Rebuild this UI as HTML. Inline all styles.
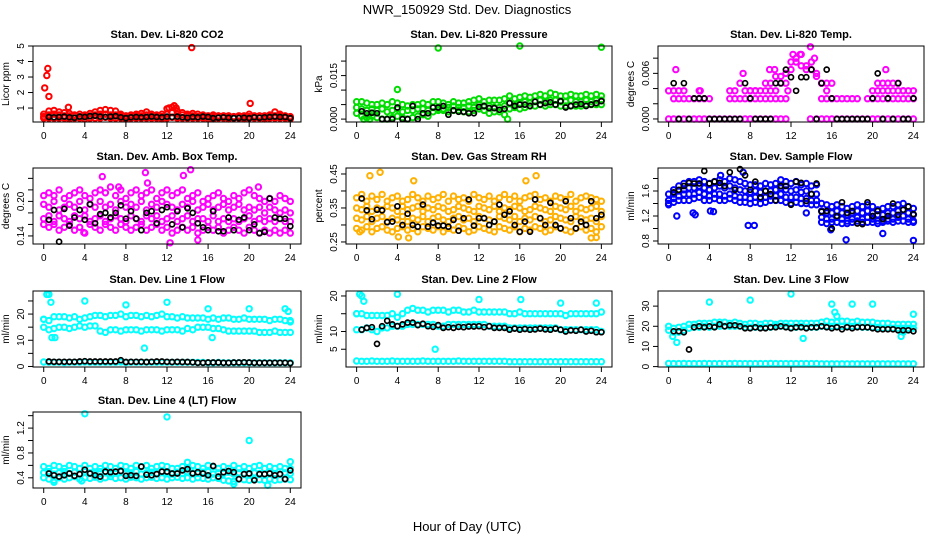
<!DOCTYPE html>
<html><head><meta charset="utf-8"><style>
html,body{margin:0;padding:0;background:#fff}
svg{display:block;font-family:"Liberation Sans",sans-serif}
</style></head><body>
<svg id="chart" width="936" height="540" viewBox="0 0 936 540" xmlns="http://www.w3.org/2000/svg">
<rect width="936" height="540" fill="#fff"/>
<text x="467" y="14" font-size="13" text-anchor="middle">NWR_150929  Std. Dev. Diagnostics</text>
<text x="467" y="531" font-size="13" text-anchor="middle">Hour of Day (UTC)</text>
</svg>
<script>
const hours=[0,0.5,1,1.5,2,2.5,3,3.5,4,4.5,5,5.5,6,6.5,7,7.5,8,8.5,9,9.5,10,10.5,11,11.5,12,12.5,13,13.5,14,14.5,15,15.5,16,16.5,17,17.5,18,18.5,19,19.5,20,20.5,21,21.5,22,22.5,23,23.5,24];
const xTicks=[0,4,8,12,16,20,24];

const co2Hi=[0.6,0.8,0.85,0.75,0.7,0.65,0.55,0.6,0.55,0.65,0.75,0.85,0.9,0.85,0.8,0.6,0.5,0.55,0.6,0.65,0.75,0.6,0.55,0.6,0.95,1.05,0.8,0.7,0.6,0.65,0.6,0.55,0.5,0.55,0.5,0.5,0.5,0.45,0.5,0.5,0.6,0.5,0.5,0.5,0.55,0.75,0.6,0.5,0.45];
const co2Mid=[0.45,0.55,0.6,0.55,0.5,0.5,0.5,0.45,0.5,0.5,0.55,0.6,0.6,0.55,0.55,0.5,0.45,0.45,0.5,0.5,0.55,0.5,0.5,0.45,0.6,0.7,0.6,0.55,0.5,0.5,0.45,0.45,0.45,0.45,0.4,0.45,0.45,0.4,0.45,0.45,0.45,0.45,0.45,0.45,0.45,0.5,0.5,0.45,0.4];
const co2Lo=[0.35,0.35,0.35,0.35,0.35,0.3,0.35,0.35,0.3,0.35,0.35,0.35,0.4,0.35,0.35,0.35,0.3,0.35,0.35,0.35,0.35,0.35,0.35,0.3,0.35,0.4,0.35,0.35,0.35,0.35,0.35,0.35,0.3,0.3,0.35,0.35,0.3,0.35,0.35,0.3,0.35,0.35,0.35,0.3,0.35,0.35,0.35,0.35,0.3];
const co2Blk=[null,0.42,0.4,0.42,0.45,0.4,0.38,0.45,0.42,0.48,0.5,0.45,0.42,0.45,0.48,0.4,0.35,0.4,0.42,0.4,0.42,0.45,0.42,0.4,0.45,0.42,0.45,0.4,0.38,0.42,0.4,0.45,0.42,0.35,0.38,0.4,0.38,0.35,0.36,0.38,0.35,0.4,0.38,0.4,0.42,0.45,0.42,0.42,0.35];
const co2Out=[[0.1,2.3],[0.3,3.1],[0.4,3.55],[0.5,1.75],[2.4,1.05],[14.4,4.9],[20.1,1.3],[12.2,1.0],[12.7,1.15],[12.9,1.0]];

const prHi=[0.006,0.006,0.0055,0.005,0.005,0.0055,0.005,0.006,0.0055,0.005,0.0045,0.005,0.005,0.0055,0.005,0.006,0.006,0.0055,0.005,0.006,0.0055,0.0055,0.006,0.0065,0.007,0.006,0.0065,0.0065,0.0065,0.007,0.008,0.007,0.0075,0.008,0.0075,0.008,0.0085,0.008,0.009,0.0085,0.008,0.008,0.0085,0.008,0.008,0.0085,0.008,0.0085,0.008];
const prMid=[0.004,0.0035,0.003,0.0035,0.003,0.0035,0.0025,0.003,0.0035,0.0025,0.003,0.003,0.0035,0.0035,0.003,0.004,0.0035,0.0035,0.004,0.0045,0.004,0.004,0.0045,0.004,0.005,0.0045,0.0045,0.004,0.004,0.0045,0.0055,0.005,0.0055,0.006,0.0055,0.006,0.0065,0.006,0.0065,0.0065,0.006,0.006,0.0065,0.006,0.006,0.0065,0.006,0.0065,0.0065];
const prLo=[0.002,0.001,0.0005,0.001,0.0005,0.0,0.0,0.0005,0.001,0.0005,0.0,0.0005,0.001,0.0015,0.001,0.0025,0.003,0.003,0.0025,0.003,0.003,0.0025,0.0025,0.003,0.0035,0.003,0.002,0.0025,0.0025,0.0015,0.0035,0.004,0.0035,0.004,0.0045,0.0045,0.005,0.0045,0.005,0.005,0.0045,0.0045,0.0045,0.0045,0.0045,0.005,0.005,0.005,0.005];
const prBlk=[null,0.0027,0.002,0.0022,0.002,0.0,0.0,0.0,0.004,0.0,0.0,0.0045,0.0,0.002,0.002,0.004,0.004,0.0045,0.0015,0.003,0.0025,0.0025,0.002,0.002,0.0042,0.0045,0.0038,0.0038,0.0032,0.0035,0.0055,0.0045,0.005,0.005,0.0045,0.006,0.005,0.0055,0.0058,0.005,0.0062,0.004,0.0045,0.005,0.0052,0.0045,0.005,0.0055,0.0062];
const prOut=[[4,0.0102],[8,0.0245],[16,0.0252],[24,0.0248],[14.8,0.0],[0.7,0.0],[1.3,0.0]];

const tLo=[0,0,0,0,0,0,0,0,0,0,0,0,0,0,0,0,0,0,0,0,0,0,0,0,null,null,null,null,null,0,0,0,0,0,0,0,0,0,0,0,0,0,0,0,0,0,0,0,0];
const tMid=[null,0.00267,0.00267,0.00267,0.00267,0.00267,0.00267,0.00267,0.00267,null,null,null,0.00267,0.00267,0.00267,0.00267,0.00267,0.00267,0.00267,0.00267,0.00267,0.00267,0.00267,0.00267,null,null,null,null,null,null,0.00267,0.00267,0.00267,0.00267,0.00267,0.00267,0.00267,0.00267,null,0.00267,0.00267,0.00267,0.00267,0.00267,0.00267,0.00267,0.00267,0.00267,0.00267];
const tHi=[0.0037,0.0037,0.0037,0.0037,null,null,0.0037,null,null,null,null,null,0.0037,0.0037,0.0047,0.0037,0.0037,0.0037,0.0037,0.0047,0.0037,0.0056,0.0047,0.0047,0.0065,0.0075,0.007,0.0065,0.0075,0.006,0.0047,0.0047,0.0047,null,null,null,null,null,null,null,0.0037,0.0047,0.0047,0.0047,0.0037,0.0047,0.0037,0.0037,0.0037];
const tHi2=[null,null,null,null,null,null,null,null,null,null,null,null,null,null,null,null,0.0037,0.0037,null,0.0037,0.0047,0.0037,0.0056,0.006,0.0075,0.008,0.0085,0.007,0.0065,0.0056,0.0047,0.0037,null,null,null,null,null,null,null,null,null,0.0037,0.0037,0.0037,0.0047,0.0037,0.0037,null,null];
const tBlk=[null,0.0047,0.0,0.0047,0.0,0.0027,0.0027,0.0027,0.0,0.0,0.0,0.0,0.0,0.0,0.0,0.0047,0.0027,0.0,0.0,0.0,0.0,0.0047,0.0047,0.0065,0.0055,0.0037,0.0055,0.0055,0.0065,0.0,0.0047,0.0065,0.0027,0.0,0.0,0.0,0.0,0.0,0.0,0.0,0.0027,0.006,0.0,0.0027,0.0,0.0047,0.0,0.0,0.0027];
const tOut=[[0.7,0.0065],[7.3,0.006],[9.9,0.0065],[10.4,0.0065],[12.2,0.0085],[12.9,0.0085],[13.9,0.0095],[14.3,0.008],[21.3,0.0065],[13.9,0.0],[3.1,0.0037],[11.7,0.0037]];

const abA=[0.21,0.215,0.21,0.22,0.205,0.21,0.215,0.22,0.21,0.205,0.215,0.22,0.215,0.225,0.21,0.22,0.205,0.215,0.22,0.21,0.215,0.22,0.205,0.215,0.22,0.21,0.215,0.22,0.205,0.21,0.215,0.2,0.205,0.21,0.215,0.205,0.2,0.21,0.205,0.215,0.22,0.21,0.205,0.2,0.205,0.2,0.21,0.205,0.2];
const abB=[0.195,0.19,0.2,0.185,0.19,0.195,0.19,0.2,0.185,0.195,0.19,0.2,0.19,0.195,0.185,0.2,0.19,0.195,0.19,0.2,0.185,0.195,0.19,0.2,0.195,0.19,0.185,0.195,0.19,0.2,0.185,0.19,0.195,0.185,0.19,0.195,0.185,0.19,0.195,0.185,0.19,0.185,0.19,0.18,0.19,0.185,0.18,0.185,0.18];
const abC=[0.17,0.175,0.165,0.175,0.17,0.165,0.175,0.17,0.175,0.165,0.17,0.175,0.165,0.17,0.175,0.17,0.165,0.175,0.17,0.165,0.175,0.17,0.175,0.165,0.17,0.175,0.165,0.17,0.175,0.165,0.17,0.17,0.165,0.175,0.165,0.17,0.165,0.17,0.165,0.17,0.175,0.165,0.17,0.165,0.17,0.165,0.17,0.165,0.165];
const abD=[0.16,0.155,0.16,0.15,0.155,0.16,0.15,0.155,0.145,0.16,0.155,0.15,0.16,0.155,0.15,0.16,0.155,0.15,0.155,0.16,0.15,0.155,0.16,0.15,0.155,0.145,0.15,0.155,0.15,0.155,0.145,0.15,0.155,0.15,0.155,0.145,0.15,0.155,0.15,0.145,0.155,0.15,0.145,0.15,0.145,0.15,0.145,0.15,0.145];
const abBlk=[null,0.168,0.185,0.13,0.187,0.158,0.172,0.185,0.168,0.195,0.162,0.178,0.18,0.172,0.18,0.193,0.17,0.183,0.17,0.15,0.18,0.183,0.162,0.185,0.19,0.16,0.183,0.155,0.188,0.18,0.162,0.155,0.15,0.183,0.148,0.148,0.172,0.15,0.168,0.172,0.15,0.16,0.145,0.147,0.205,0.172,0.17,0.17,0.157];
const abOut=[[5.7,0.243],[9.9,0.25],[13.6,0.245],[14.3,0.255],[12.3,0.128],[7.3,0.225],[20.9,0.225],[3.9,0.146],[15,0.133],[10.1,0.232]];

const rhA=[0.38,0.39,0.37,0.385,0.375,0.39,0.37,0.38,0.385,0.37,0.375,0.39,0.38,0.37,0.385,0.375,0.38,0.39,0.37,0.385,0.375,0.38,0.37,0.39,0.38,0.375,0.385,0.37,0.38,0.39,0.375,0.385,0.37,0.38,0.385,0.39,0.375,0.38,0.37,0.385,0.38,0.375,0.39,0.37,0.38,0.385,0.38,0.375,0.37];
const rhB=[0.35,0.345,0.355,0.34,0.35,0.345,0.355,0.35,0.34,0.355,0.345,0.35,0.355,0.34,0.35,0.345,0.355,0.35,0.34,0.345,0.355,0.35,0.345,0.34,0.355,0.35,0.345,0.355,0.34,0.35,0.345,0.355,0.35,0.34,0.345,0.355,0.35,0.345,0.34,0.355,0.35,0.345,0.355,0.34,0.35,0.345,0.35,0.355,0.34];
const rhC=[0.32,0.315,0.325,0.31,0.32,0.325,0.31,0.32,0.315,0.325,0.31,0.32,0.315,0.325,0.31,0.32,0.325,0.315,0.31,0.32,0.325,0.315,0.32,0.31,0.325,0.32,0.315,0.31,0.325,0.32,0.315,0.325,0.31,0.32,0.315,0.325,0.32,0.31,0.315,0.325,0.32,0.315,0.31,0.325,0.32,0.315,0.32,0.31,0.325];
const rhD=[0.29,0.285,0.295,0.28,0.29,0.295,0.285,0.28,0.29,0.295,0.285,0.29,0.28,0.295,0.29,0.285,0.295,0.28,0.29,0.285,0.295,0.29,0.28,0.285,0.295,0.29,0.285,0.28,0.295,0.29,0.285,0.295,0.28,0.29,0.285,0.295,0.29,0.28,0.285,0.295,0.29,0.285,0.28,0.29,0.295,0.285,0.29,0.28,0.295];
const rhBlk=[null,0.378,0.343,0.317,0.345,0.343,0.308,0.31,0.355,0.3,0.333,0.3,0.295,0.36,0.295,0.307,0.298,0.298,0.295,0.315,0.283,0.32,0.375,0.298,0.32,0.32,0.3,0.31,0.36,0.33,0.34,0.3,0.28,0.31,0.28,0.375,0.32,0.3,0.365,0.3,0.29,0.37,0.32,0.29,0.31,0.3,0.37,0.32,0.33];
const rhOut=[[1.3,0.445],[2.3,0.455],[5.6,0.43],[17.6,0.445],[23,0.262],[23.5,0.263],[0.3,0.28],[4.1,0.265],[5.1,0.262],[16.6,0.43]];

const sfA=[1.55,1.62,1.68,1.72,1.75,1.75,1.78,1.75,1.72,1.75,1.78,1.75,1.8,1.78,1.75,1.72,1.7,1.7,1.68,1.72,1.7,1.72,1.78,1.75,1.72,1.75,1.7,1.72,1.68,1.7,1.4,1.38,1.35,1.38,1.35,1.32,1.35,1.38,1.35,1.38,1.35,1.3,1.32,1.35,1.35,1.38,1.4,1.35,1.32];
const sfB=[1.45,1.55,1.6,1.62,1.65,1.65,1.68,1.65,1.62,1.65,1.68,1.65,1.68,1.65,1.62,1.6,1.58,1.6,1.58,1.6,1.6,1.62,1.65,1.62,1.6,1.62,1.58,1.6,1.55,1.55,1.28,1.25,1.25,1.28,1.25,1.22,1.25,1.28,1.25,1.28,1.25,1.22,1.22,1.25,1.25,1.28,1.3,1.25,1.22];
const sfC=[1.4,1.48,1.52,1.55,1.55,1.55,1.58,1.55,1.52,1.55,1.55,1.52,1.55,1.52,1.5,1.5,1.48,1.5,1.48,1.5,1.52,1.52,1.55,1.5,1.5,1.5,1.48,1.48,1.45,1.45,1.18,1.15,1.15,1.18,1.15,1.12,1.15,1.18,1.15,1.18,1.15,1.12,1.12,1.15,1.15,1.18,1.2,1.15,1.12];
const sfD=[1.38,1.42,1.45,1.45,1.45,1.48,1.5,1.45,1.45,1.48,1.45,1.45,1.48,1.45,1.42,1.42,1.4,1.42,1.4,1.42,1.45,1.45,1.45,1.42,1.4,1.42,1.4,1.4,1.38,1.38,1.1,1.08,1.1,1.1,1.08,1.08,1.1,1.12,1.1,1.1,1.1,1.08,1.1,1.12,1.1,1.12,1.12,1.1,1.1];
const sfBlk=[null,1.58,1.62,1.68,1.73,1.72,1.72,1.92,1.72,1.75,1.73,1.68,1.9,1.62,1.95,1.85,1.62,1.75,1.5,1.6,1.55,1.45,1.68,1.68,1.38,1.75,1.73,1.44,1.55,1.72,1.27,1.28,1.0,1.2,1.42,1.25,1.28,1.08,1.07,1.42,1.2,1.28,1.15,1.2,1.4,1.22,1.3,1.35,1.23];
const sfOut=[[0.8,1.2],[2.4,1.25],[2.6,1.22],[4.1,1.28],[4.4,1.27],[5.1,1.85],[7.3,1.9],[7.8,1.05],[8.4,1.05],[17.4,0.82],[24,0.81],[21,0.92],[13.5,1.25],[15.9,0.98]];

const l1A=[18,17.5,19,19,19,18.5,19,18,18.5,19,19.5,19.5,19,19.5,19.5,20,19,19.5,19.5,19,19.5,19,19.5,20,19,19,18.5,19,18.5,18.5,18.5,18.5,18,18.5,18,18.5,18.5,18,18,18.5,18,18,18,18,17.5,18,18,17.5,17.5];
const l1B=[15,14,14.5,15,15,14.5,15,15.5,15,15.5,15.5,13.5,13,14,14,13.5,14,14,14,13.5,14,14,14,13.5,14,14,14,13.5,14.5,14,15,15,15,14.5,14.5,14,13.5,13.5,13.5,13.5,13.5,13.5,13,13,13,13.5,13,13,13];
const l1C=[1.7,1.6,1.6,1.6,1.5,1.6,1.6,1.6,1.7,1.6,1.6,1.6,1.6,1.6,1.6,1.7,1.5,1.6,1.6,1.6,1.6,1.6,1.6,1.6,1.6,1.6,1.6,1.6,1.6,1.6,1.5,1.5,1.4,1.4,1.5,1.4,1.4,1.4,1.4,1.4,1.4,1.4,1.4,1.4,1.4,1.4,1.4,1.4,1.4];
const l1Blk=[null,1.9,1.8,1.8,1.8,1.8,1.8,1.9,2.0,1.9,1.9,1.9,1.9,1.9,1.9,2.4,1.7,1.8,1.8,1.8,1.7,1.8,1.9,1.9,1.8,1.7,1.8,1.7,1.7,1.6,1.4,1.4,1.5,1.5,1.5,1.4,1.4,1.5,1.5,1.6,1.5,1.4,1.4,1.4,1.4,1.4,1.4,1.4,1.3];
const l1Out=[[0.3,27.5],[0.5,27.5],[0.7,24.5],[4,25],[8,23.5],[12,24.5],[16,22],[20,22],[23.5,22],[23.8,21],[9.8,7],[16.4,11],[0.8,11],[1.1,11],[0,18],[24,17]];

const l2A=[15,15,14.5,14.5,14.5,14.5,14.5,15,14,15,16,16.5,16,16,15.5,16,16,16,15.5,16,16,15.5,15.5,16,15.5,15.5,15.5,15.5,15.5,15.5,15,15,15.5,15,15,15,15,15,15,15,15,14.5,15,15,15,15,15,15,15.5];
const l2B=[10.5,10.5,11,10.5,10,11,11,11.5,11.5,11.5,12,12,12,12,12,12,11.5,11.5,12,12,12,12,12,12,12,12,11.5,11.5,11.5,11.5,11,11,11,11,11,11,11,11,11,11,10.5,10.5,10.5,10.5,10.5,10.5,10.5,10.5,10];
const l2C=[1.7,1.6,1.6,1.7,1.6,1.6,1.6,1.7,1.6,1.6,1.6,1.6,1.6,1.7,1.6,1.6,1.6,1.6,1.6,1.6,1.7,1.6,1.6,1.6,1.6,1.6,1.6,1.6,1.6,1.6,1.5,1.5,1.5,1.5,1.5,1.5,1.5,1.5,1.5,1.5,1.5,1.5,1.5,1.5,1.5,1.5,1.5,1.5,1.5];
const l2Blk=[null,10.5,11,11.2,6.5,11.5,13,12,11.5,12,12.5,12.5,11.8,12.2,11.5,11.3,11.8,11,11.2,11,11.3,11.2,11.4,11.4,11.5,11.2,11.5,11,11,11,10.5,10.8,10.5,10.7,10.5,10.6,10.8,10.6,10.5,10.8,10.5,10,10.3,10.2,10.5,10,10.2,9.8,9.8];
const l2Out=[[0.3,20.5],[0.5,20],[0.7,18.5],[4,20.5],[12,19],[20,18],[23.5,18],[7.7,5],[16.1,19],[0,15]];

const l3A=[20,19,19.5,20,21,21,21.5,21.5,21.5,22,22,22,21.5,22,21.5,21,21.5,21.5,21,21.5,21.5,21,21.5,21.5,21.5,21.5,21.5,21.5,21.5,21.5,22,22.5,22,22,22.5,22.5,22,22.5,22,22,22,21.5,21.5,21.5,21,21,21,21,21];
const l3B=[18,17,17,18,19,19.5,19.5,20,19.5,20,20,20,20,20,20,19.5,19.5,19.5,19.5,19.5,19.5,20,20,20,19.5,19.5,20,19.5,19.5,19.5,20,20,20,20,20,20,20,20,19.5,19.5,19.5,19.5,19,19,19,19,19,19,19];
const l3C=[1.6,1.5,1.5,1.6,1.5,1.5,1.5,1.6,1.5,1.5,1.5,1.5,1.5,1.6,1.5,1.5,1.5,1.5,1.5,1.5,1.6,1.5,1.5,1.5,1.5,1.5,1.5,1.5,1.5,1.5,1.4,1.4,1.4,1.4,1.4,1.4,1.4,1.4,1.4,1.4,1.4,1.4,1.4,1.4,1.4,1.4,1.4,1.4,1.4];
const l3Blk=[null,17.5,17.5,17,8.5,19.5,20,19.5,20,19.5,21,20,20.5,20.5,20,19,19,19.5,19,19,19.5,19.5,20,19.5,19,19.5,19.5,19,19.5,19.5,20,19.5,19,19.5,18.5,19.5,19,19.5,19.5,19.5,19,18.5,18.5,18.5,18.5,18,18,18,17.5];
const l3Out=[[4,32],[8,33],[12,36],[16,31],[18,31],[20,31],[16.3,27],[16.5,25],[24,26],[13.2,14],[0.8,12],[0.4,15],[22.8,15],[23,17]];

const l4A=[0.58,0.55,0.6,0.58,0.55,0.6,0.58,0.55,0.6,0.55,0.58,0.55,0.6,0.58,0.55,0.6,0.58,0.55,0.6,0.58,0.6,0.55,0.58,0.6,0.58,0.55,0.55,0.58,0.55,0.6,0.58,0.55,0.6,0.58,0.55,0.58,0.55,0.6,0.55,0.58,0.55,0.58,0.6,0.55,0.58,0.55,0.58,0.55,0.55];
const l4B=[0.48,0.5,0.46,0.48,0.5,0.47,0.49,0.46,0.5,0.48,0.47,0.5,0.48,0.46,0.49,0.5,0.47,0.48,0.5,0.46,0.48,0.49,0.47,0.5,0.48,0.46,0.49,0.47,0.5,0.48,0.47,0.49,0.5,0.46,0.48,0.47,0.49,0.46,0.48,0.47,0.46,0.48,0.47,0.46,0.48,0.47,0.46,0.48,0.47];
const l4C=[0.4,0.38,0.36,0.4,0.38,0.4,0.42,0.38,0.4,0.39,0.41,0.38,0.4,0.42,0.39,0.4,0.38,0.41,0.4,0.38,0.4,0.41,0.39,0.4,0.38,0.4,0.41,0.39,0.4,0.38,0.4,0.39,0.38,0.4,0.39,0.36,0.35,0.34,0.38,0.37,0.36,0.38,0.37,0.36,0.38,0.36,0.37,0.38,0.37];
const l4Blk=[null,0.47,0.44,0.42,0.44,0.47,0.43,0.46,0.53,0.47,0.44,0.42,0.5,0.49,0.5,0.51,0.43,0.44,0.43,0.58,0.45,0.44,0.46,0.5,0.5,0.47,0.47,0.52,0.54,0.47,0.49,0.47,0.44,0.59,0.42,0.49,0.51,0.49,0.38,0.46,0.47,0.36,0.46,0.46,0.47,0.44,0.46,0.38,0.52];
const l4Out=[[4,1.43],[12,1.38],[20,1.0],[24,0.66],[14,0.65],[21.8,0.28],[1,0.33],[18.5,0.3],[3.7,0.35]];

const panels=[
 {name:'co2',title:'Stan. Dev. Li-820 CO2',ylab:'Licor ppm',col:0,row:0,vTop:5.0,vBot:0.1,color:'#ff0000',bands:[co2Hi,co2Mid,co2Lo],blk:co2Blk,out:co2Out,ticks:[1,2,3,4,5],labels:['1','2','3','4','5']},
 {name:'pressure',title:'Stan. Dev. Li-820 Pressure',ylab:'kPa',col:1,row:0,vTop:0.0252,vBot:-0.001,color:'#00dd00',bands:[prHi,prMid,prLo],blk:prBlk,out:prOut,ticks:[0,0.005,0.01,0.015,0.02],labels:['0.000','','','0.015','']},
 {name:'temp',title:'Stan. Dev. Li-820 Temp.',ylab:'degrees C',col:2,row:0,vTop:0.0096,vBot:-0.0004,color:'#ff00ff',bands:[tLo,tMid,tHi,tHi2],blk:tBlk,out:tOut,ticks:[0,0.002,0.004,0.006,0.008],labels:['0.000','','','0.006','']},
 {name:'amb-box',title:'Stan. Dev. Amb. Box Temp.',ylab:'degrees C',col:0,row:1,vTop:0.258,vBot:0.126,color:'#ff00ff',bands:[abA,abB,abC,abD],blk:abBlk,out:abOut,ticks:[0.14,0.16,0.18,0.2,0.22,0.24],labels:['0.14','','','0.20','','']},
 {name:'rh',title:'Stan. Dev. Gas Stream RH',ylab:'percent',col:1,row:1,vTop:0.4676,vBot:0.244,color:'#ffb000',bands:[rhA,rhB,rhC,rhD],blk:rhBlk,out:rhOut,ticks:[0.25,0.3,0.35,0.4,0.45],labels:['0.25','','0.35','','0.45']},
 {name:'sample-flow',title:'Stan. Dev. Sample Flow',ylab:'ml/min',col:2,row:1,vTop:1.968,vBot:0.752,color:'#0000ff',bands:[sfA,sfB,sfC,sfD],blk:sfBlk,out:sfOut,ticks:[0.8,1.0,1.2,1.4,1.6,1.8],labels:['0.8','','1.2','','1.6','']},
 {name:'line1',title:'Stan. Dev. Line 1 Flow',ylab:'ml/min',col:0,row:2,vTop:28.8,vBot:-0.2,color:'#00ffff',bands:[l1A,l1B,l1C],blk:l1Blk,out:l1Out,ticks:[0,5,10,15,20,25],labels:['0','','10','','20','']},
 {name:'line2',title:'Stan. Dev. Line 2 Flow',ylab:'ml/min',col:1,row:2,vTop:21.4,vBot:0,color:'#00ffff',bands:[l2A,l2B,l2C],blk:l2Blk,out:l2Out,ticks:[5,10,15,20],labels:['5','10','','20']},
 {name:'line3',title:'Stan. Dev. Line 3 Flow',ylab:'ml/min',col:2,row:2,vTop:37.5,vBot:-0.2,color:'#00ffff',bands:[l3A,l3B,l3C],blk:l3Blk,out:l3Out,ticks:[0,10,20,30],labels:['0','10','20','30']},
 {name:'line4',title:'Stan. Dev. Line 4 (LT) Flow',ylab:'ml/min',col:0,row:3,vTop:1.459,vBot:0.236,color:'#00ffff',bands:[l4A,l4B,l4C],blk:l4Blk,out:l4Out,ticks:[0.4,0.6,0.8,1.0,1.2,1.4],labels:['0.4','','0.8','','1.2','']}
];
const colLeft=[33,346,658], colW=[268,266,266];
const rowTop=[46,168,291,412], boxH=76;
const NS='http://www.w3.org/2000/svg';
const svg=document.getElementById('chart');
function mk(tag,attrs,parent){const e=document.createElementNS(NS,tag);for(const k in attrs)e.setAttribute(k,attrs[k]);(parent||svg).appendChild(e);return e;}

panels.forEach(p=>{
 const L=colLeft[p.col],W=colW[p.col],T=rowTop[p.row],B=T+boxH;
 const xs=h=>L+W*(0.04+0.92*h/24);
 const ys=v=>T+(p.vTop-v)/(p.vTop-p.vBot)*boxH;
 const g=mk('g',{});
 
 
 const t=mk('text',{x:L+W/2,y:T-8,'font-size':11,'font-weight':'bold','text-anchor':'middle'},g);
 
 
 t.textContent=p.title;
 const yl=mk('text',{x:0,y:0,'font-size':10,'text-anchor':'middle',transform:`translate(${L-24},${(T+B)/2}) rotate(-90)`},g);
 
 
 yl.textContent=p.ylab;
 const clip=mk('g',{},g);
 
 
 function dot(h,v,color,r,sw){
  if(v===null||v===undefined)return;
  const c=mk('circle',{cx:xs(h).toFixed(1),cy:ys(v).toFixed(1),r:r,fill:'none',stroke:color,'stroke-width':sw},clip);
  
  
 }
 p.bands.forEach(arr=>arr.forEach((v,i)=>dot(hours[i],v,p.color,2.7,2.0)));
 p.out.forEach(o=>dot(o[0],o[1],p.color,2.7,2.0));
 p.blk.forEach((v,i)=>dot(hours[i],v,'#000',2.5,1.7));
 const box=mk('rect',{x:L,y:T,width:W,height:boxH,fill:'none',stroke:'#000','stroke-width':1},g);
 
 
 xTicks.forEach(h=>{
  const x=xs(h);
  const tk=mk('line',{x1:x,x2:x,y1:B,y2:B+5,stroke:'#000'},g);
  
  
  const tl=mk('text',{x:x,y:B+17,'font-size':10,'text-anchor':'middle'},g);
  
  
  tl.textContent=String(h);
 });
 p.ticks.forEach((v,i)=>{
  const y=ys(v);
  const tk=mk('line',{x1:L-5,x2:L,y1:y,y2:y,stroke:'#000'},g);
  
  
  if(p.labels[i]){
   const tl=mk('text',{x:0,y:0,'font-size':10,'text-anchor':'middle',transform:`translate(${L-9},${y}) rotate(-90)`},g);
   
   
   tl.textContent=p.labels[i];
  }
 });
});
</script>
</body></html>
